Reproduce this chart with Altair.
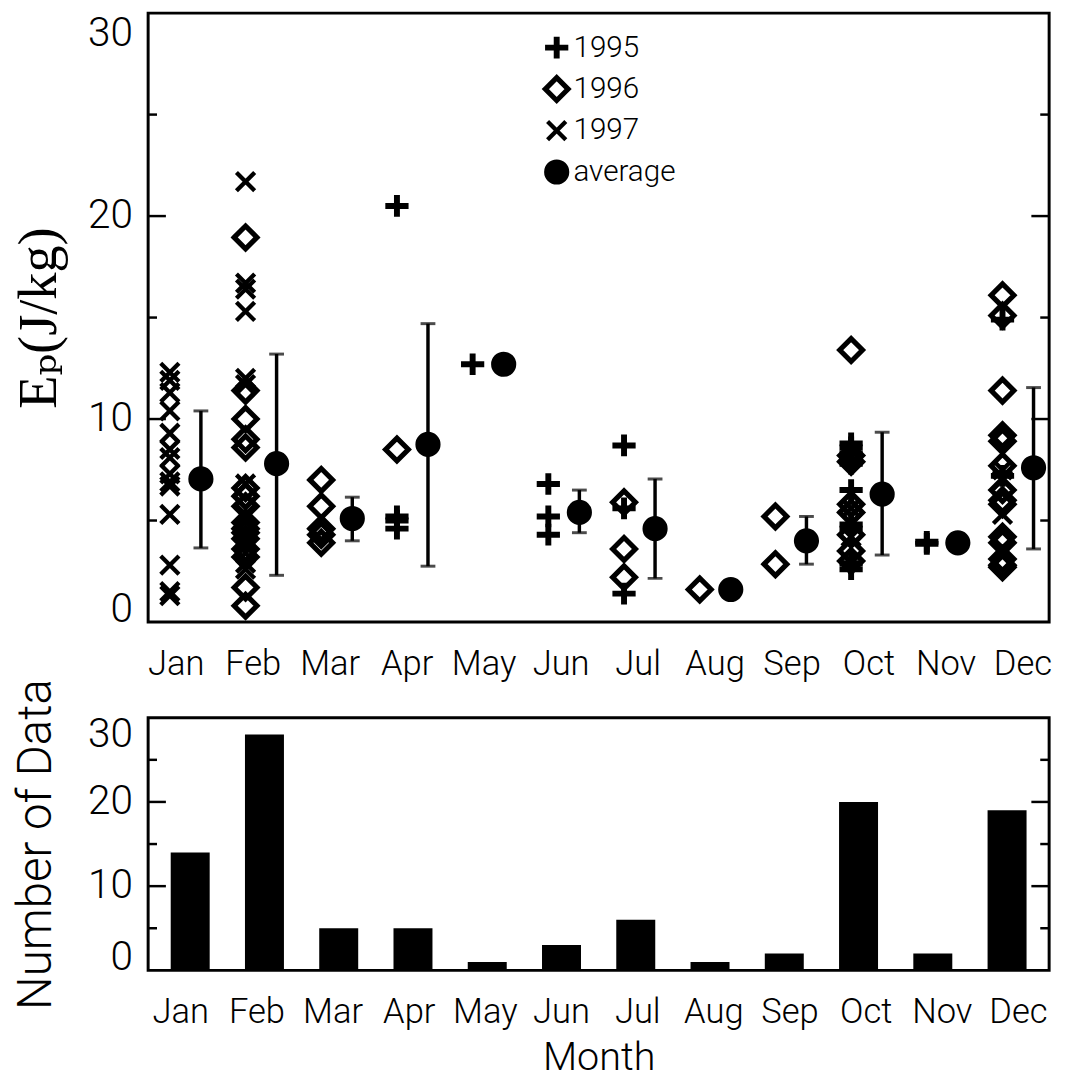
import altair as alt
import pandas as pd

months = ["Jan", "Feb", "Mar", "Apr", "May", "Jun", "Jul", "Aug", "Sep", "Oct", "Nov", "Dec"]

# 1995 (+)
m_1995 = [4, 4, 4, 4, 5, 6, 6, 6, 7, 7, 7,
          10, 10, 10, 10, 10, 10, 10, 10, 10, 10, 11, 11, 12, 12]
v_1995 = [20.5, 5.2, 5.0, 4.6, 12.7, 6.8, 5.2, 4.3, 8.7, 5.6, 1.4,
          8.8, 8.6, 8.3, 8.0, 7.8, 6.5, 4.8, 4.6, 2.9, 2.6, 3.95, 3.85, 14.9, 7.2]
# 1996 (diamond)
m_1996 = [2] * 16 + [3] * 5 + [4] + [7] * 3 + [8] + [9] * 2 + [10] * 8 + [12] * 14
v_1996 = [18.95, 11.4, 10.0, 9.0, 8.6, 6.6, 6.2, 5.7, 4.9, 4.6, 4.4, 4.1, 3.6, 3.2, 1.7, 0.8,
          7.0, 5.7, 4.6, 4.3, 3.9,
          8.5,
          5.9, 3.6, 2.2,
          1.6,
          5.2, 2.85,
          13.4, 8.2, 7.9, 5.8, 5.4, 4.3, 3.5, 3.0,
          16.1, 15.1, 11.4, 9.2, 8.9, 7.7, 6.5, 6.0, 5.8, 4.2, 3.9, 3.1, 2.8, 2.7]
# 1997 (x)
m_1997 = [1] * 14 + [2] * 12 + [10] * 2 + [12] * 3
v_1997 = [12.3, 11.9, 11.3, 10.4, 9.3, 8.5, 8.1, 7.3, 6.9, 6.7, 5.3, 2.8, 1.5, 1.3,
          21.7, 16.7, 16.4, 15.3, 12.0, 11.7, 6.8, 5.3, 3.9, 3.4, 2.9, 2.6,
          5.6, 4.2,
          7.5, 7.0, 5.3]
# monthly average and error bar ends
avg_value = [7.05, 7.8, 5.1, 8.75, 12.7, 5.4, 4.6, 1.6, 4.0, 6.3, 3.9, 7.6]
avg_low = [3.65, 2.3, 4.0, 2.75, None, 4.4, 2.15, None, 2.85, 3.3, None, 3.6]
avg_high = [10.4, 13.2, 6.15, 14.7, None, 6.5, 7.05, None, 5.2, 9.35, None, 11.55]
# number of data per month
counts = [14, 28, 5, 5, 1, 3, 6, 1, 2, 20, 2, 19]

series_names = ["1995", "1996", "1997", "average"]
y_label_values = [0, 10, 20, 30]
ticks_major = [10, 20]
ticks_minor = [5, 15, 25]

# ---------------- tables ----------------
rows = []
for yr, ms, vs in (("1995", m_1995, v_1995), ("1996", m_1996, v_1996), ("1997", m_1997, v_1997)):
    for m, v in zip(ms, vs):
        rows.append({"month": m, "value": v, "series": yr, "xpos": m - 0.2})
for i, v in enumerate(avg_value):
    rows.append({"month": i + 1, "value": v, "series": "average", "xpos": i + 1 + 0.21})
sym = pd.DataFrame(rows)

err = pd.DataFrame({"month": list(range(1, 13)), "lo": avg_low, "hi": avg_high}).dropna()
err["xpos"] = err["month"] + 0.21

bars = pd.DataFrame({"month": list(range(1, 13)), "count": counts})

W = 913
H_TOP = 617
H_BOT = 256

LABEL_FONT = "Roboto"
label_expr = "[" + ",".join("'%s'" % m for m in months) + "][datum.value - 1]"


def label_offsets(a, step):
    conds = []
    for m in range(1, 13):
        target = 28 + 78.0 * (m - 1)
        tick = (m - a) * step
        conds.append({"test": "datum.value === %d" % m, "value": round(target - tick, 1)})
    return {"condition": conds, "value": 0}


def x_axis(a, step, title=None):
    kw = dict(values=list(range(1, 13)), labelExpr=label_expr, labelFontSize=35,
              labelPadding=25, labelOffset=label_offsets(a, step), labelFlush=False)
    if title is not None:
        kw.update(title=title, titleFontSize=40, titlePadding=8, titleFont=LABEL_FONT,
                  titleFontWeight=300)
    else:
        kw.update(title=None)
    return alt.Axis(**kw)


def y_axis(title, font, size, weight, pad, flush_off, zero_shift):
    return alt.Axis(values=y_label_values, labelFlush=True, labelFlushOffset=flush_off,
                    labelOffset={"condition": {"test": "datum.value === 0", "value": zero_shift},
                                 "value": 0},
                    labelFontSize=41, labelPadding=16,
                    title=title, titleFont=font, titleFontSize=size, titleFontWeight=weight,
                    titlePadding=pad)


def tick_layers(yscale, yaxis):
    out = []
    for vals, length in ((ticks_major, 18), (ticks_minor, 9)):
        base = alt.Chart(pd.DataFrame({"t": vals})).mark_rule(color="black", strokeWidth=2.5)
        out.append(base.encode(y=alt.Y("t:Q", scale=yscale, axis=yaxis),
                               x=alt.value(0), x2=alt.value(length)))
        out.append(base.encode(y=alt.Y("t:Q", scale=yscale, axis=yaxis),
                               x=alt.value(W), x2=alt.value(W - length)))
    return out


plus_path = "M-1.07,0L1.07,0M0,-1.0L0,1.0"
diamond_path = "M-1.05,0L0,-1.05L1.05,0L0,1.05Z"
x_path = "M-0.84,-0.84L0.84,0.84M-0.84,0.84L0.84,-0.84"

# ---------------- top panel ----------------
top_a, top_b = 0.513, 12.416
xs_top = alt.Scale(domain=[top_a, top_b], nice=False, zero=False)
ys_top = alt.Scale(domain=[0, 30], nice=False, zero=True)
xa_top = x_axis(top_a, W / (top_b - top_a))
ya_top = y_axis("Eₚ(J/kg)", "Liberation Serif, DejaVu Serif", 55, 400, 20.5, -1, 9)

points = alt.Chart(sym).mark_point(filled=False, opacity=1, size=484).encode(
    x=alt.X("xpos:Q", scale=xs_top, axis=xa_top),
    y=alt.Y("value:Q", scale=ys_top, axis=ya_top),
    shape=alt.Shape("series:N", scale=alt.Scale(domain=series_names,
                                                 range=[plus_path, diamond_path, x_path, "circle"]),
                    legend=alt.Legend(orient="none", legendX=399, legendY=20, title=None,
                                      labelFont=LABEL_FONT, labelFontSize=30, labelFontWeight=300,
                                      labelColor="black", labelOffset=2, rowPadding=-3,
                                      gridAlign="all", symbolSize=484,
                                      padding=0)),
    stroke=alt.Stroke("series:N", scale=alt.Scale(domain=series_names,
                                                   range=["black", "black", "black", "black"])),
    fill=alt.Fill("series:N", scale=alt.Scale(domain=series_names,
                                               range=["transparent", "transparent", "transparent", "black"])),
    strokeWidth=alt.StrokeWidth("series:N", scale=alt.Scale(domain=series_names, range=[6, 3.5, 3.8, 0])),
)

err_x = alt.X("xpos:Q", scale=xs_top, axis=xa_top)
err_rule = alt.Chart(err).mark_rule(color="black", strokeWidth=3.5).encode(
    x=err_x, y=alt.Y("lo:Q", scale=ys_top, axis=ya_top), y2="hi:Q")
cap_lo = alt.Chart(err).mark_tick(color="black", orient="horizontal", size=15, thickness=3).encode(
    x=err_x, y=alt.Y("lo:Q", scale=ys_top, axis=ya_top))
cap_hi = alt.Chart(err).mark_tick(color="black", orient="horizontal", size=15, thickness=3).encode(
    x=err_x, y=alt.Y("hi:Q", scale=ys_top, axis=ya_top))

top = alt.layer(points, err_rule, cap_lo, cap_hi, *tick_layers(ys_top, ya_top)).properties(
    width=W, height=H_TOP)

# ---------------- bottom panel ----------------
bot_a, bot_b = 0.5, 12.5
xs_bot = alt.Scale(domain=[bot_a, bot_b], nice=False, zero=False)
ys_bot = alt.Scale(domain=[0, 30], nice=False, zero=True)
ya_bot = y_axis("Number of Data", LABEL_FONT, 48, 300, 27, 3, 5)
bar = alt.Chart(bars).mark_bar(color="black", size=39.5).encode(
    x=alt.X("month:Q", scale=xs_bot, axis=x_axis(bot_a, W / (bot_b - bot_a), title="Month")),
    y=alt.Y("count:Q", scale=ys_bot, axis=ya_bot),
)
bottom = alt.layer(bar, *tick_layers(ys_bot, ya_bot)).properties(width=W, height=H_BOT)

chart = alt.vconcat(top, bottom, spacing=-7).properties(
    padding={"left": 2, "top": -4, "right": 5, "bottom": 0},
    background="white",
).configure_view(stroke="black", strokeWidth=3).configure_axis(
    domain=False, ticks=False, tickSize=0, grid=False, labelFont=LABEL_FONT, labelFontWeight=300,
    labelColor="black", titleColor="black",
)

chart.save("out.html", embed_options={"renderer": "svg", "actions": False})
